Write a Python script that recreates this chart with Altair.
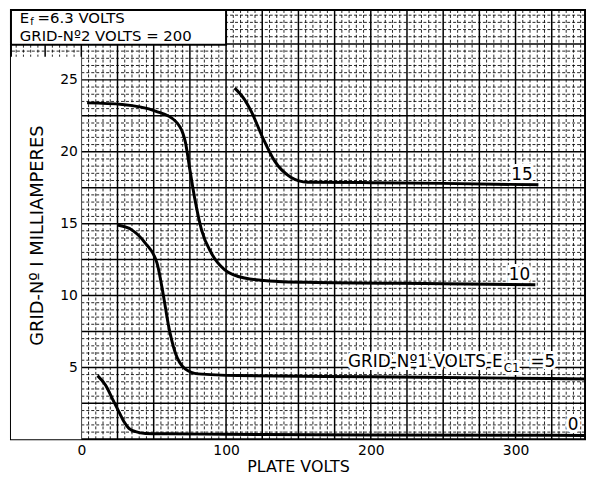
import altair as alt
import pandas as pd
import numpy as np

FONT = "DejaVu Sans"

# ---- characteristic curves (plate volts, grid-No.1 milliamperes) ----
curve_names = ["0", "5", "10", "15"]
c0_v = [11.2, 16.9, 21.4, 26.0, 29.5, 32.9, 37.5, 44.3, 60, 100, 200, 300, 348]
c0_i = [4.43, 3.74, 2.83, 1.91, 1.22, 0.76, 0.53, 0.41, 0.38, 0.35, 0.30, 0.28, 0.27]
c5_v = [24.9, 35.1, 44.3, 52.3, 56.8, 60.3, 64.8, 71.7, 80.8, 108.2, 200, 300, 348]
c5_i = [14.9, 14.55, 13.63, 12.25, 9.95, 7.88, 6.05, 4.9, 4.55, 4.43, 4.35, 4.25, 4.2]
c10_v = [4, 28.3, 51.2, 64.9, 71.7, 75.1, 78.6, 83.1, 89.9, 99.1, 112.8, 135.6, 156.2, 250, 313.7]
c10_i = [23.4, 23.29, 22.83, 22.14, 20.76, 18.69, 16.62, 14.55, 12.94, 11.79, 11.22, 10.98, 10.92, 10.82, 10.75]
c15_v = [106, 112.8, 117.3, 125.3, 133.4, 144.7, 156.2, 200, 250, 315.8]
c15_i = [24.43, 23.63, 22.83, 20.99, 19.38, 18.23, 17.88, 17.85, 17.8, 17.7]

# ---- axis ticks ----
x_ticks = [0, 100, 200, 300]
y_ticks = [5, 10, 15, 20, 25]
x_domain = [-48.6, 348]
y_domain = [0, 29.86]

# ---- curve labels ----
lab_text = ["15", "10", "0"]
lab_v = [304.5, 302.7, 339.7]
lab_i = [18.4, 11.4, 0.97]

# long label pieces
long_main = "GRID-Nº1 VOLTS-E"
long_main_v, long_main_i = 291.1, 5.38
long_rest_text = ["C1", "=5"]
long_rest_v = [291.8, 310.3]
long_rest_i = [4.95, 5.38]
long_rest_size = [12, 17]

# title box text
box_text = ["E", "f", "=6.3 VOLTS", "GRID-Nº2 VOLTS = 200"]
box_v = [-42.5, -35.2, -30.2, -42.5]
box_i = [29.31, 29.03, 29.31, 28.07]
box_size = [15, 10, 15, 15]
box_extent_v = [-48.6, 100]
box_extent_i = [27.45, 29.86]
blank_extent_v = [-48.6, 0]
blank_extent_i = [0, 26.6]

# ---- build tables ----
rows = []
for name, vs, is_ in zip(curve_names, [c0_v, c5_v, c10_v, c15_v], [c0_i, c5_i, c10_i, c15_i]):
    for k, (v, i) in enumerate(zip(vs, is_)):
        rows.append({"curve": name, "v": v, "i": i, "k": k})
curves = pd.DataFrame(rows)

major_v = [v for v in np.arange(-25, 349, 25)]
minor_v = [v for v in np.arange(-45, 349, 5) if v % 25 != 0]
major_i = [i for i in np.arange(2.5, 29.9, 2.5)]
minor_i = [i for i in np.arange(0.5, 29.9, 0.5) if abs(i / 2.5 - round(i / 2.5)) > 1e-6]

xs = alt.Scale(domain=x_domain, nice=False, zero=False)
ys = alt.Scale(domain=y_domain, nice=False, zero=False)

AX_X = alt.Axis(
    values=x_ticks, title="PLATE VOLTS", grid=False, ticks=False, domain=False,
    labelFont=FONT, labelFontSize=14, labelColor="black", labelPadding=4,
    titleFont=FONT, titleFontSize=16, titleFontWeight="normal", titleColor="black",
    titlePadding=1, zindex=1)
AX_Y = alt.Axis(
    values=y_ticks, title="GRID-Nº I MILLIAMPERES", grid=False, ticks=False,
    tickSize=0, domain=False, offset=-71, zindex=1,
    labelFont=FONT, labelFontSize=14, labelColor="black", labelPadding=4,
    titleFont=FONT, titleFontSize=18, titleFontWeight="normal", titleColor="black",
    titleX=-44, titleY=227, titleAngle=-90, titleBaseline="middle", titleAlign="center")


def vx(field="v"):
    return alt.X(f"{field}:Q", scale=xs, axis=AX_X)


def iy(field="i"):
    return alt.Y(f"{field}:Q", scale=ys, axis=AX_Y)


grid_minor_x = alt.Chart(pd.DataFrame({"v": minor_v})).mark_rule(
    color="black", strokeWidth=1, strokeDash=[3, 2], opacity=0.85
).encode(x=vx())
grid_minor_y = alt.Chart(pd.DataFrame({"i": minor_i})).mark_rule(
    color="black", strokeWidth=1, strokeDash=[3, 2], opacity=0.85
).encode(y=iy())
grid_major_x = alt.Chart(pd.DataFrame({"v": major_v})).mark_rule(
    color="black", strokeWidth=1.5
).encode(x=vx())
grid_major_y = alt.Chart(pd.DataFrame({"i": major_i})).mark_rule(
    color="black", strokeWidth=1.5
).encode(y=iy())

blank = alt.Chart(pd.DataFrame({
    "v": [blank_extent_v[0]], "v2": [blank_extent_v[1]],
    "i": [blank_extent_i[0]], "i2": [blank_extent_i[1]]})).mark_rect(
    fill="white"
).encode(x=vx(), x2="v2:Q", y=iy(), y2="i2:Q")

box = alt.Chart(pd.DataFrame({
    "v": [box_extent_v[0]], "v2": [box_extent_v[1]],
    "i": [box_extent_i[0]], "i2": [box_extent_i[1]]})).mark_rect(
    fill="white", stroke="black", strokeWidth=2
).encode(x=vx(), x2="v2:Q", y=iy(), y2="i2:Q")

lines = alt.Chart(curves).mark_line(
    color="black", strokeWidth=3, interpolate="monotone"
).encode(x=vx(), y=iy(), detail="curve:N", order="k:Q")

lab_df = pd.DataFrame({"t": lab_text, "v": lab_v, "i": lab_i})
lab_halo = alt.Chart(lab_df).mark_text(
    font=FONT, fontSize=17, color="white", stroke="white", strokeWidth=6
).encode(x=vx(), y=iy(), text="t:N")
lab = alt.Chart(lab_df).mark_text(font=FONT, fontSize=17, color="black").encode(
    x=vx(), y=iy(), text="t:N")

main_df = pd.DataFrame({"t": [long_main], "v": [long_main_v], "i": [long_main_i]})
rest_df = pd.DataFrame({"t": long_rest_text, "v": long_rest_v, "i": long_rest_i, "s": long_rest_size})
main_halo = alt.Chart(main_df).mark_text(
    font=FONT, fontSize=17, align="right", color="white", stroke="white", strokeWidth=6
).encode(x=vx(), y=iy(), text="t:N")
main_txt = alt.Chart(main_df).mark_text(
    font=FONT, fontSize=17, align="right", color="black"
).encode(x=vx(), y=iy(), text="t:N")
rest_halo = alt.Chart(rest_df).mark_text(
    font=FONT, align="left", color="white", stroke="white", strokeWidth=6
).encode(x=vx(), y=iy(), text="t:N", size=alt.Size("s:Q", scale=None, legend=None))
rest_txt = alt.Chart(rest_df).mark_text(
    font=FONT, align="left", color="black"
).encode(x=vx(), y=iy(), text="t:N", size=alt.Size("s:Q", scale=None, legend=None))

box_df = pd.DataFrame({"t": box_text, "v": box_v, "i": box_i, "s": box_size})
box_txt = alt.Chart(box_df).mark_text(
    font=FONT, align="left", color="black"
).encode(x=vx(), y=iy(), text="t:N", size=alt.Size("s:Q", scale=None, legend=None))

chart = alt.layer(
    grid_minor_x, grid_minor_y, grid_major_x, grid_major_y,
    blank, box, lines,
    lab_halo, main_halo, rest_halo,
    lab, main_txt, rest_txt, box_txt,
).properties(
    width=579, height=433,
    autosize=alt.AutoSizeParams(type="none"),
    padding={"left": 3, "top": 0, "right": 2, "bottom": 34},
    background="white",
).configure_view(stroke="black", strokeWidth=2)

chart.save("out.html", embed_options={"renderer": "svg", "actions": False})
